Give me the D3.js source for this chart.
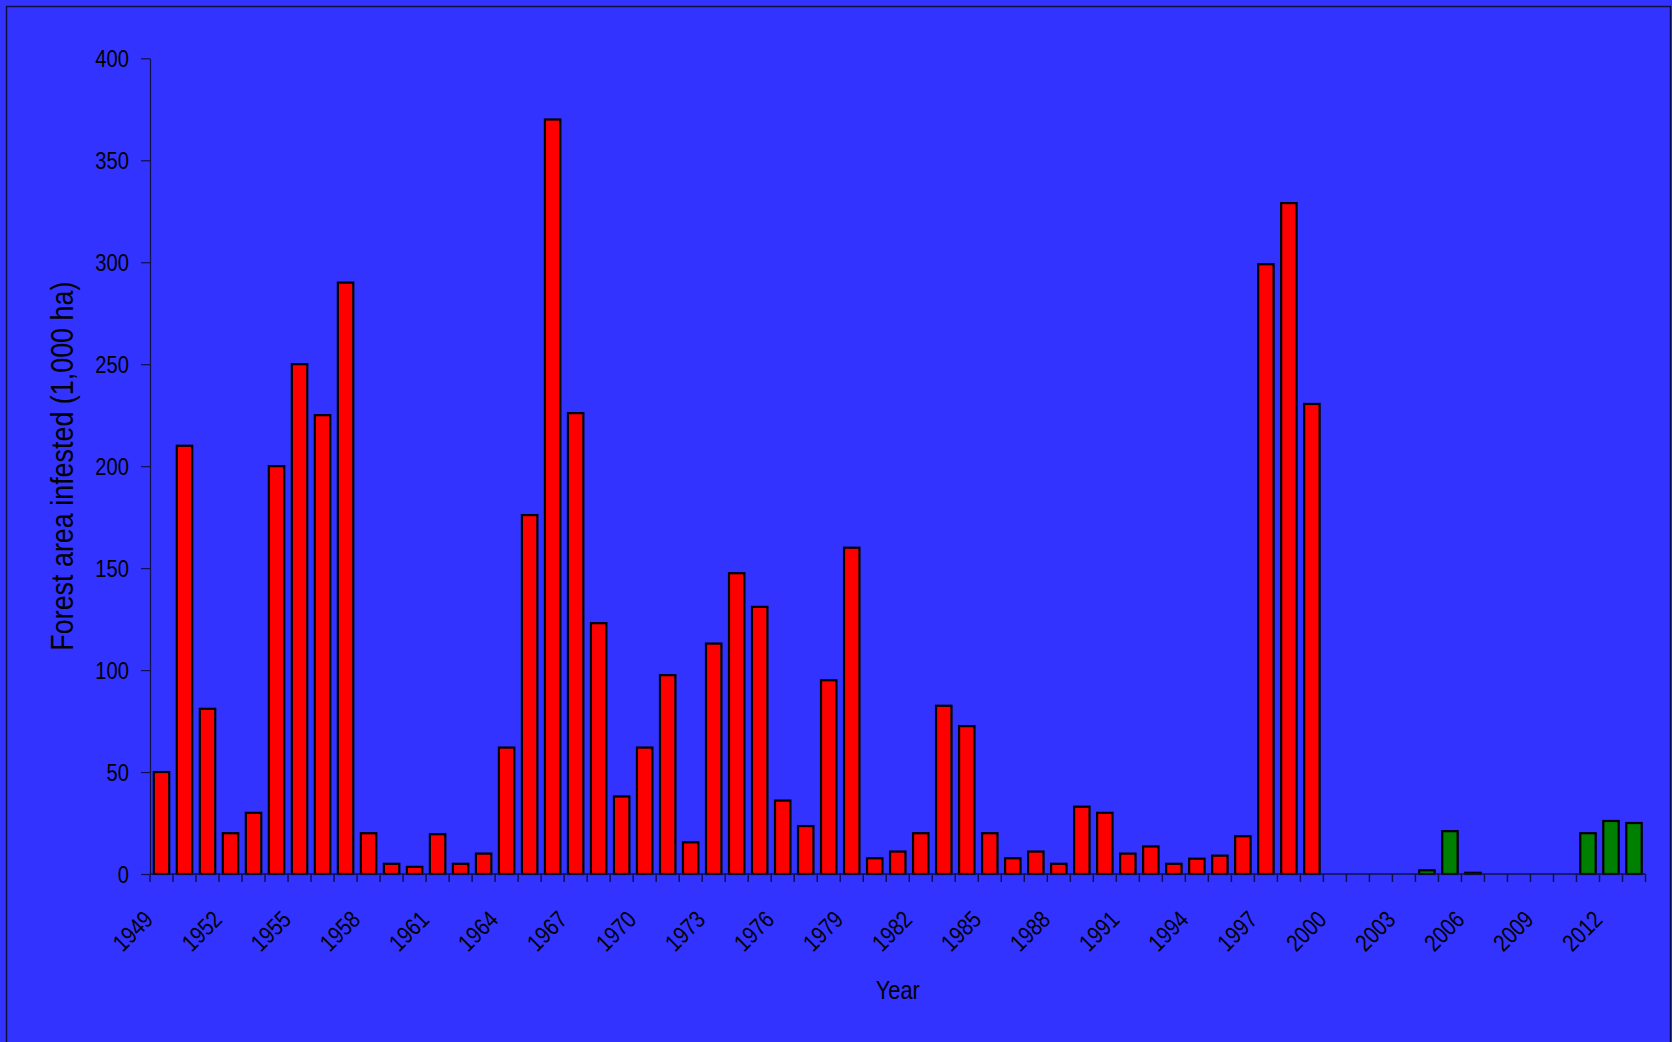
<!DOCTYPE html>
<html>
<head>
<meta charset="utf-8">
<script src="https://cdn.jsdelivr.net/npm/d3@7"></script>
<style>
  html, body { margin: 0; padding: 0; background: #3333ff; }
  svg { display: block; }
  text { font-family: 'Liberation Sans', Arial, sans-serif; fill: #000; }
</style>
</head>
<body>
<div id="chart"></div>
<script>
// --- Data ---
const years = [
    1949, 1950, 1951, 1952, 1953, 1954, 1955, 1956, 1957, 1958,
    1959, 1960, 1961, 1962, 1963, 1964, 1965, 1966, 1967, 1968,
    1969, 1970, 1971, 1972, 1973, 1974, 1975, 1976, 1977, 1978,
    1979, 1980, 1981, 1982, 1983, 1984, 1985, 1986, 1987, 1988,
    1989, 1990, 1991, 1992, 1993, 1994, 1995, 1996, 1997, 1998,
    1999, 2000, 2001, 2002, 2003, 2004, 2005, 2006, 2007, 2008,
    2009, 2010, 2011, 2012, 2013
];

// 1949-1999 (1,000 ha)
const redYears = years.filter(y => y <= 1999);
const redValues = [
    50, 210, 81, 20, 30, 200, 250, 225, 290, 20,
    5, 3.5, 19.5, 5, 10, 62, 176, 370, 226, 123,
    38, 62, 97.5, 15.5, 113, 147.5, 131, 36, 23.5, 95,
    160, 7.7, 11, 20, 82.5, 72.5, 20, 7.7, 11, 5,
    33, 30, 10, 13.5, 5, 7.5, 9, 18.5, 299, 329,
    230.5
];

// 2000-2013 (1,000 ha)
const greenYears = years.filter(y => y >= 2000);
const greenValues = [0, 0, 0, 0, 1.8, 21, 0.6, 0, 0, 0, 0, 20, 26, 25];

const xTickLabels = [1949, 1952, 1955, 1958, 1961, 1964, 1967, 1970, 1973, 1976,
    1979, 1982, 1985, 1988, 1991, 1994, 1997, 2000, 2003, 2006, 2009, 2012];
const yTicks = [0, 50, 100, 150, 200, 250, 300, 350, 400];

// --- Chart ---
const W = 1672, H = 1042;
const plot = { left: 150, right: 1645.5, top: 58.3, bottom: 874 };
const narrow = 'scale(0.84,1)'; // squeeze to look like Arial Narrow

const svg = d3.select('#chart')
    .append('svg')
    .attr('width', W)
    .attr('height', H);

svg.append('rect')
    .attr('width', W).attr('height', H)
    .attr('fill', '#3333ff');

// outer frame
svg.append('rect')
    .attr('x', 6.5).attr('y', 6.5)
    .attr('width', 1664).attr('height', 1060)
    .attr('fill', 'none')
    .attr('stroke', '#101040')
    .attr('stroke-width', 1.5);

const x = d3.scaleBand()
    .domain(years)
    .range([plot.left, plot.right])
    .paddingInner(0.33)
    .paddingOuter(0.165);

const y = d3.scaleLinear()
    .domain([0, 400])
    .range([plot.bottom, plot.top]);

// Y axis
const yAxis = svg.append('g')
    .attr('transform', `translate(${plot.left},0)`)
    .call(d3.axisLeft(y).tickValues(yTicks).tickSize(9).tickPadding(12).tickSizeOuter(0));
yAxis.select('.domain').attr('stroke', '#10104a').attr('stroke-width', 1.2);
yAxis.selectAll('.tick line').attr('stroke', '#10104a').attr('stroke-width', 1.2);
yAxis.selectAll('text')
    .attr('x', 0)
    .attr('dy', '0.36em')
    .attr('transform', `translate(-21,0) ${narrow}`)
    .style('font-size', '24px')
    .style('font-family', null);

// Bars
const red = redYears.map((yr, i) => ({ year: yr, value: redValues[i] }));
const green = greenYears.map((yr, i) => ({ year: yr, value: greenValues[i] })).filter(d => d.value > 0);

function drawBars(data, color) {
    svg.append('g')
        .selectAll('rect')
        .data(data)
        .enter()
        .append('rect')
        .attr('x', d => x(d.year))
        .attr('y', d => y(d.value))
        .attr('width', x.bandwidth())
        .attr('height', d => y(0) - y(d.value))
        .attr('fill', color)
        .attr('stroke', '#000')
        .attr('stroke-width', 2.2);
}
drawBars(red, '#ff0000');
drawBars(green, '#008000');

// X axis line + category boundary ticks
const half = (x.step() - x.bandwidth()) / 2;
const boundaries = years.map(yr => x(yr) - half).concat([x(years[years.length - 1]) + x.bandwidth() + half]);
const xg = svg.append('g');
xg.append('line')
    .attr('x1', plot.left).attr('x2', boundaries[boundaries.length - 1])
    .attr('y1', y(0)).attr('y2', y(0))
    .attr('stroke', '#10104a').attr('stroke-width', 1.5);
xg.selectAll('.bt')
    .data(boundaries)
    .enter()
    .append('line')
    .attr('x1', d => d).attr('x2', d => d)
    .attr('y1', y(0)).attr('y2', y(0) + 8)
    .attr('stroke', '#10104a').attr('stroke-width', 1.5);

// X labels (every third year)
const xAxis = svg.append('g')
    .attr('transform', `translate(0,${y(0)})`)
    .call(d3.axisBottom(x).tickValues(xTickLabels).tickSize(0));
xAxis.select('.domain').remove();
xAxis.selectAll('text')
    .attr('x', 0).attr('y', 0).attr('dy', 0)
    .attr('text-anchor', 'end')
    .attr('transform', `translate(-7,47) rotate(-45) ${narrow}`)
    .style('font-size', '24px')
    .style('font-family', null);

// Axis titles
svg.append('text')
    .attr('transform', `translate(73,${(plot.top + plot.bottom) / 2}) rotate(-90) ${narrow}`)
    .attr('text-anchor', 'middle')
    .style('font-size', '32px')
    .text('Forest area infested (1,000 ha)');

svg.append('text')
    .attr('transform', `translate(${(plot.left + plot.right) / 2},999) ${narrow}`)
    .attr('text-anchor', 'middle')
    .style('font-size', '26px')
    .text('Year');
</script>
</body>
</html>
